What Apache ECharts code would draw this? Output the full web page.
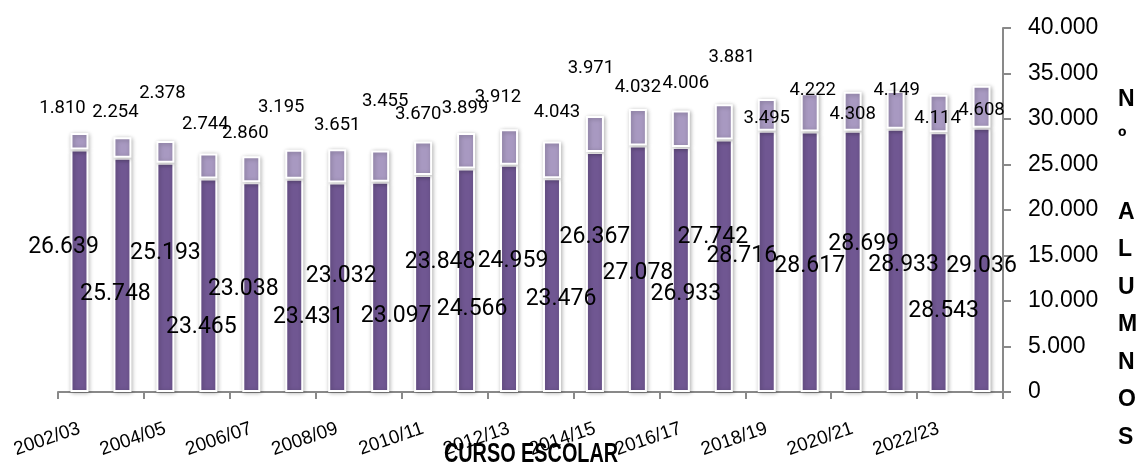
<!DOCTYPE html>
<html>
<head>
<meta charset="utf-8">
<script src="https://cdn.jsdelivr.net/npm/echarts@6/dist/echarts.min.js"></script>
<style>
  html, body { margin: 0; padding: 0; background: #fff; }
  #chart { width: 1136px; height: 466px; }
</style>
</head>
<body>
<div id="chart"></div>
<script>
// cursos escolares (eje X)
const cursos = [
  '2002/03', '2003/04', '2004/05', '2005/06', '2006/07', '2007/08', '2008/09', '2009/10',
  '2010/11', '2011/12', '2012/13', '2013/14', '2014/15', '2015/16', '2016/17', '2017/18',
  '2018/19', '2019/20', '2020/21', '2021/22', '2022/23', '2023/24'
]
// serie inferior (morado oscuro)
const alumnosBase = [
  26639, 25748, 25193, 23465, 23038, 23431, 23032, 23097, 23848, 24566, 24959,
  23476, 26367, 27078, 26933, 27742, 28716, 28617, 28699, 28933, 28543, 29036
]
// serie superior (morado claro)
const alumnosExtra = [
  1810, 2254, 2378, 2744, 2860, 3195, 3651, 3455, 3670, 3899, 3912,
  4043, 3971, 4032, 4006, 3881, 3495, 4222, 4308, 4149, 4114, 4608
]
// marcas del eje Y
const yTicks = { min: 0, max: 40000, step: 5000 }

// desplazamiento de etiquetas (en el original están colocadas a mano) [dx, dy]
const nudgeBase = [
  [-16, 93], [-7, 132], [0, 86], [-7, 144], [-8, 102], [14, 133], [4, 89], [16, 129],
  [17, 82], [6, 136], [4, 91], [9, 116], [0, 80], [0, 123], [5, 142], [-11, 93],
  [-25, 121], [0, 130], [11, 108], [8, 132], [5, 174], [0, 133]
]
const nudgeExtra = [
  [-17, -29], [-7, -29], [-3, -52], [-3, -33], [-6, -27], [-13, -46], [0, -28], [5, -53],
  [-5, -31], [-1, -29], [-11, -36], [5, -33], [-4, -52], [0, -26], [5, -31], [8, -51],
  [0, 15], [3, -7], [0, 19], [1, -5], [-1, 20], [0, 21]
]

const fmt = v => String(v).replace(/\B(?=(\d{3})+(?!\d))/g, '.')

const barStyle = color => ({
  color: color,
  borderColor: '#fff',
  borderWidth: 2,
  shadowBlur: 4,
  shadowColor: 'rgba(0,0,0,0.28)',
  shadowOffsetX: 1,
  shadowOffsetY: 1
})

const withLabels = (values, nudges) => values.map((v, i) => ({
  value: v,
  label: { offset: nudges[i] }
}))

const chart = echarts.init(document.getElementById('chart'), null, { renderer: 'canvas' })

chart.setOption({
  animation: false,
  backgroundColor: '#fff',
  grid: { left: 58, right: 133, top: 28, bottom: 74 },
  xAxis: {
    type: 'category',
    data: cursos,
    axisLine: { lineStyle: { color: '#898989', width: 2 } },
    axisTick: { show: true, length: 7, lineStyle: { color: '#898989', width: 2 } },
    axisLabel: {
      interval: 1,
      rotate: 19,
      margin: 36,
      color: '#000',
      fontFamily: 'Liberation Sans',
      fontSize: 19
    }
  },
  yAxis: {
    type: 'value',
    position: 'right',
    min: yTicks.min,
    max: yTicks.max,
    interval: yTicks.step,
    splitLine: { show: false },
    axisLine: { show: true, lineStyle: { color: '#898989', width: 2 } },
    axisTick: { show: true, length: 8, lineStyle: { color: '#898989', width: 2 } },
    axisLabel: {
      margin: 25,
      color: '#000',
      fontFamily: 'Liberation Sans',
      fontSize: 23,
      formatter: v => fmt(v)
    }
  },
  graphic: [
    {
      // título del eje X (letra estrecha como en el original)
      type: 'text',
      x: 531,
      y: 455,
      scaleX: 0.735,
      style: {
        text: 'CURSO ESCOLAR',
        fontFamily: 'Liberation Sans',
        fontWeight: 'bold',
        fontSize: 27,
        textAlign: 'center',
        textVerticalAlign: 'middle',
        fill: '#000'
      }
    },
    {
      // título del eje Y, letra a letra
      type: 'text',
      x: 1118,
      y: 81,
      style: {
        text: 'N\nº\n\nA\nL\nU\nM\nN\nO\nS',
        fontFamily: 'Liberation Sans',
        fontWeight: 'bold',
        fontSize: 23,
        lineHeight: 37.5,
        textVerticalAlign: 'top',
        fill: '#000'
      }
    }
  ],
  series: [
    {
      name: 'base',
      type: 'bar',
      stack: 'total',
      barWidth: 18,
      itemStyle: barStyle('#705792'),
      label: {
        show: true,
        position: ['50%', 5],
        align: 'center',
        verticalAlign: 'middle',
        color: '#000',
        fontFamily: 'Roboto',
        fontSize: 23,
        formatter: p => fmt(p.value)
      },
      data: withLabels(alumnosBase, nudgeBase)
    },
    {
      name: 'extra',
      type: 'bar',
      stack: 'total',
      barWidth: 18,
      itemStyle: barStyle('#a899c1'),
      label: {
        show: true,
        position: ['50%', 4],
        align: 'center',
        verticalAlign: 'middle',
        color: '#000',
        fontFamily: 'Roboto',
        fontSize: 18.5,
        formatter: p => fmt(p.value)
      },
      data: withLabels(alumnosExtra, nudgeExtra)
    }
  ]
})
</script>
</body>
</html>
